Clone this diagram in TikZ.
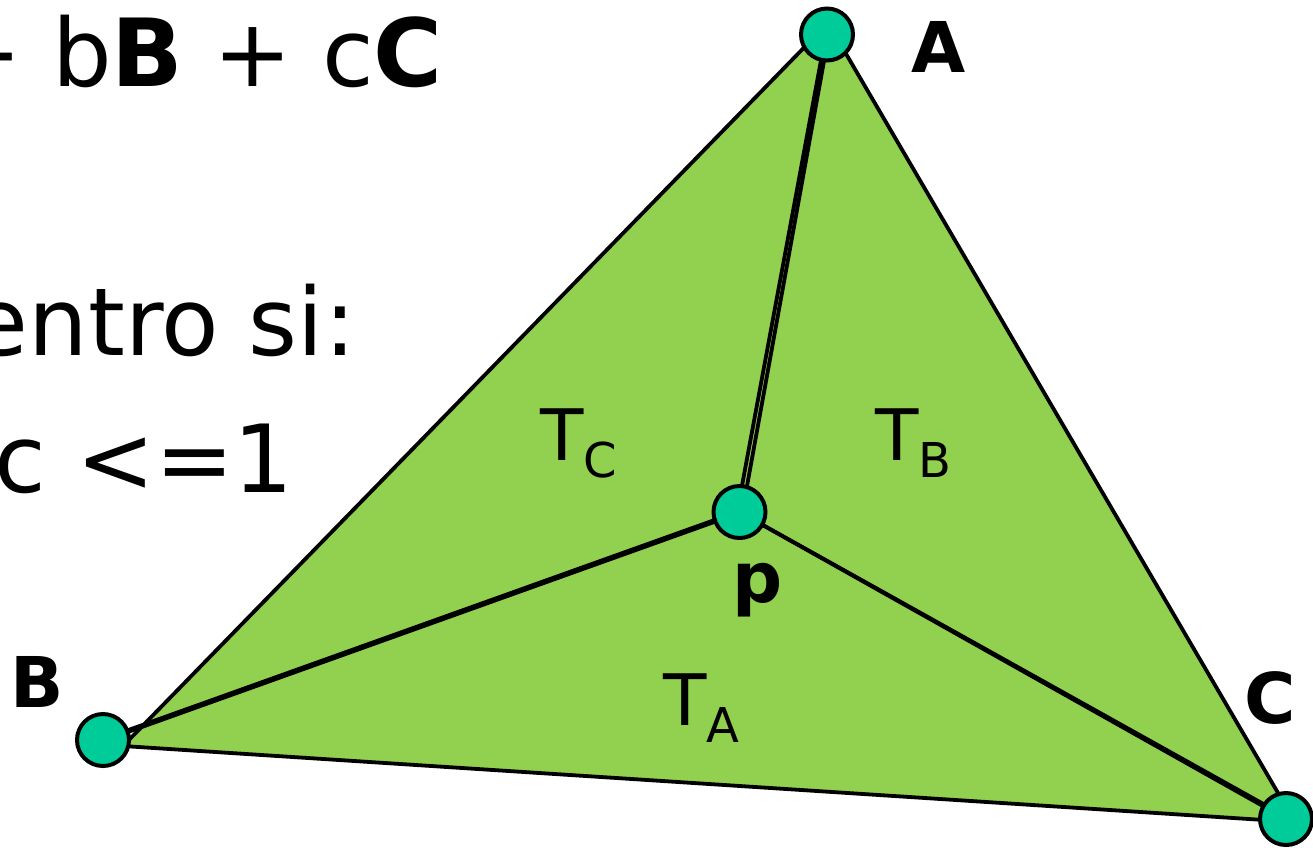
\documentclass[tikz,border=0pt]{standalone}
\usepackage{fontspec}
\setmainfont{DejaVu Sans}
\usetikzlibrary{backgrounds}
\definecolor{tri}{HTML}{92D050}
\definecolor{dot}{HTML}{00CC99}
\newcommand\tsub[1]{\raisebox{-17pt}{\fontsize{48}{48}\selectfont #1}}
\tikzset{
 edge/.style={line width=3.8pt, line join=round},
 inner/.style={line width=3.8pt, line cap=round},
 vtx/.style={circle, fill=dot, draw=black, line width=4pt, minimum size=52pt, inner sep=0pt},
 big/.style={font=\fontsize{94}{94}\selectfont, inner sep=0pt},
 vlab/.style={font=\fontsize{70}{70}\selectfont\bfseries, inner sep=0pt},
 tlab/.style={font=\fontsize{71}{71}\selectfont, inner sep=0pt},
}
\begin{document}
\begin{tikzpicture}[x=1pt,y=-1pt]
\useasboundingbox (0,0) rectangle (1313,847);
\clip (0,0) rectangle (1313,847);
% vertices
\node[vtx] (A) at (827,34.5) {};
\node[vtx] (B) at (103,740) {};
\node[vtx] (C) at (1286,819) {};
\node[vtx] (p) at (739.5,512) {};
\begin{scope}[on background layer]
\coordinate (tA) at (828,23);
\coordinate (tB) at (123,746);
\coordinate (tC) at (1295,822);
\fill[tri] (tA) -- (tB) -- (tC) -- cycle;
\draw[edge] (tA) -- (tB) -- (tC) -- cycle;
\draw[inner] ([xshift=-1.2pt]A.center) -- ([xshift=-2.4pt]p.center);
\draw[inner] ([xshift=1.8pt]A.center) -- ([xshift=2.8pt]p.center);
\draw[inner, line width=5.5pt] (B.center) -- (p.center);
\draw[inner] (p.center) -- (C.center);
\draw[inner] (p.center) -- ([shift={(-1pt,3pt)}]C.center);
\end{scope}
% text
\node[big, anchor=base east] (l1) at (443,86) {+ b\textbf{B} + c\textbf{C}};
\node[big, anchor=base east] (l2) at (356,355) {entro si:};
\node[big, anchor=base east] (l3) at (294,492) {c <=1};
\node[vlab, anchor=base west] (lA) at (911,72) {A};
\node[vlab, anchor=base west] (lB) at (10,707) {B};
\node[vlab, anchor=base west] (lC) at (1244,723) {C};
\node[vlab, anchor=base west] (lp) at (732,602) {p};
\node[tlab, anchor=base west] (TC) at (540,460) {T\tsub{C}};
\node[tlab, anchor=base west] (TB) at (875,460) {T\tsub{B}};
\node[tlab, anchor=base west] (TA) at (663,725) {T\tsub{A}};
\end{tikzpicture}
\end{document}
